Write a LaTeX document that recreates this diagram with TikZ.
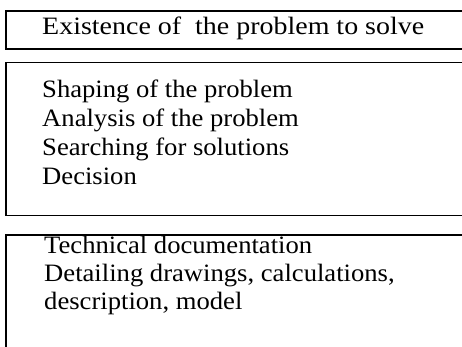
\documentclass[tikz,border=0pt]{standalone}
\usepackage{fontspec}
\setmainfont{Liberation Serif}
\begin{document}
\begin{tikzpicture}[x=1pt,y=-1pt]
\tikzset{
  panel/.style={draw, line width=1.8pt, anchor=north west, minimum width=490pt, inner sep=0pt},
  txt/.style={anchor=base west, inner sep=0pt, xscale=1.065, font=\fontsize{25}{28}\selectfont},
  wide/.style={xscale=1.05}
}
\useasboundingbox (0,0) rectangle (462,346);
\clip (0,0) rectangle (462,346);
\node[panel, minimum height=38pt] (b1) at (5,10) {};
\node[panel, minimum height=153pt] (b2) at (5,61.5) {};
\node[panel, minimum height=140pt] (b3) at (5,234) {};
\node[txt, wide] (t1) at (42,34.5) {Existence of \ the problem to solve};
\node[txt] (t2) at (42,97.5) {Shaping of the problem};
\node[txt] (t3) at (42,126.5) {Analysis of the problem};
\node[txt] (t4) at (42,155.5) {Searching for solutions};
\node[txt] (t5) at (42,184.5) {Decision};
\node[txt] (t6) at (44,253.5) {Technical documentation};
\node[txt] (t7) at (44,281.2) {Detailing drawings, calculations,};
\node[txt] (t8) at (44,309) {description, model};
\end{tikzpicture}
\end{document}
